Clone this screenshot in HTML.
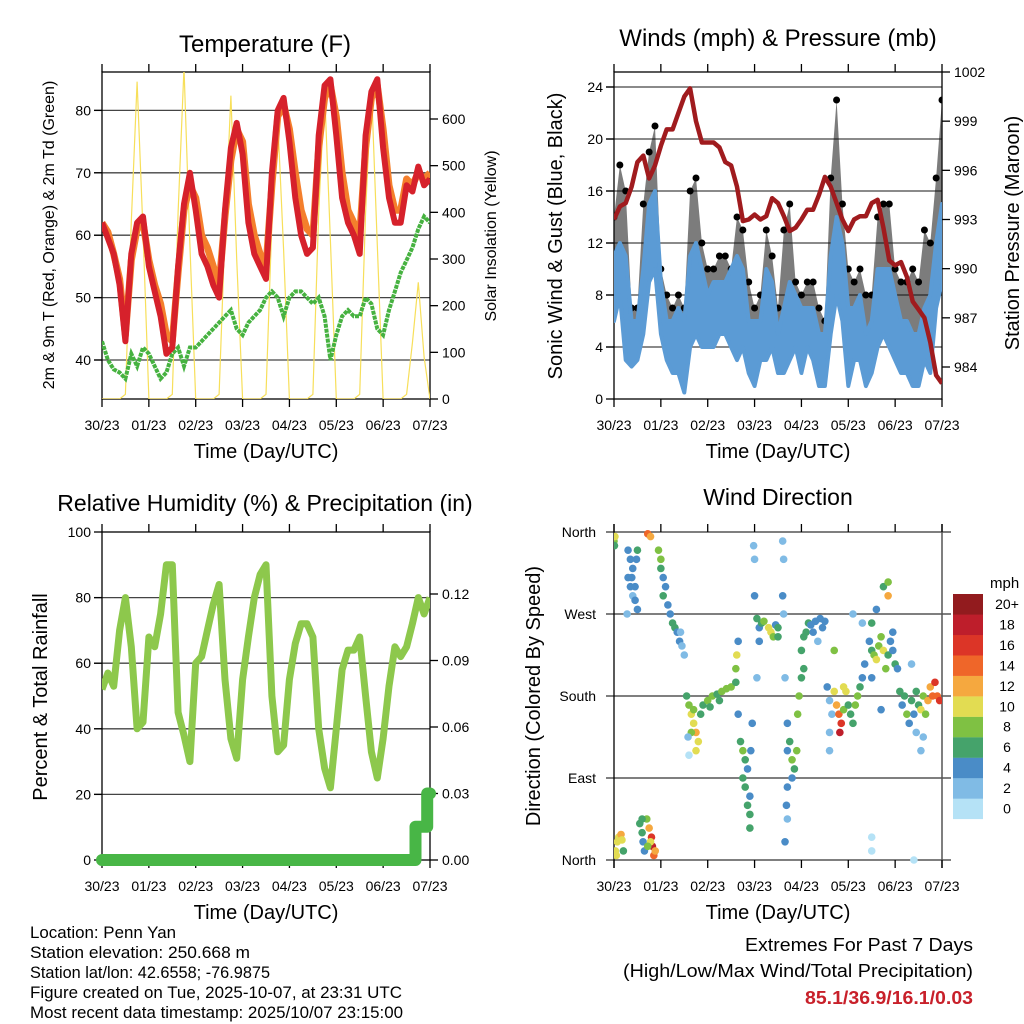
<!DOCTYPE html>
<html><head><meta charset="utf-8"><style>
html,body{margin:0;padding:0;background:#fff;}
svg{display:block;font-family:"Liberation Sans",sans-serif;}
.n{font-family:"Liberation Sans Narrow","Liberation Sans",sans-serif;}
</style></head><body>
<svg id="root" width="1024" height="1024" viewBox="0 0 1024 1024" xmlns="http://www.w3.org/2000/svg">
<defs>
<clipPath id="c1"><rect x="102" y="72" width="328" height="327"/></clipPath>
<clipPath id="c2"><rect x="614" y="72" width="328" height="327"/></clipPath>
<clipPath id="c3"><rect x="102" y="532" width="328" height="328"/></clipPath>
<clipPath id="c4"><rect x="614" y="528" width="328" height="336"/></clipPath>
</defs>
<text x="265" y="52" font-size="24" text-anchor="middle">Temperature (F)</text>
<text x="778" y="46" font-size="24" text-anchor="middle">Winds (mph) &amp; Pressure (mb)</text>
<text x="265" y="511" font-size="23" text-anchor="middle">Relative Humidity (%) &amp; Precipitation (in)</text>
<text x="778" y="505" font-size="23" text-anchor="middle">Wind Direction</text>
<text x="266" y="458" font-size="20" text-anchor="middle">Time (Day/UTC)</text>
<text x="778" y="458" font-size="20" text-anchor="middle">Time (Day/UTC)</text>
<text x="266" y="919" font-size="20" text-anchor="middle">Time (Day/UTC)</text>
<text x="778" y="919" font-size="20" text-anchor="middle">Time (Day/UTC)</text>
<text transform="translate(54,235) rotate(-90)" font-size="16" text-anchor="middle">2m &amp; 9m T (Red, Orange) &amp; 2m Td (Green)</text>
<text transform="translate(496,236) rotate(-90)" font-size="16" text-anchor="middle">Solar Insolation (Yellow)</text>
<text transform="translate(562,236) rotate(-90)" font-size="20" text-anchor="middle">Sonic Wind &amp; Gust (Blue, Black)</text>
<text transform="translate(1019,233) rotate(-90)" font-size="20" text-anchor="middle">Station Pressure (Maroon)</text>
<text transform="translate(47,697) rotate(-90)" font-size="20" text-anchor="middle">Percent &amp; Total Rainfall</text>
<text transform="translate(540,696) rotate(-90)" font-size="20" text-anchor="middle">Direction (Colored By Speed)</text>
<g class="n" font-size="17" lengthAdjust="spacingAndGlyphs">
<text x="30" y="938" textLength="146" lengthAdjust="spacingAndGlyphs">Location: Penn Yan</text>
<text x="30" y="958" textLength="220" lengthAdjust="spacingAndGlyphs">Station elevation: 250.668 m</text>
<text x="30" y="978" textLength="240" lengthAdjust="spacingAndGlyphs">Station lat/lon: 42.6558; -76.9875</text>
<text x="30" y="998" textLength="372" lengthAdjust="spacingAndGlyphs">Figure created on Tue, 2025-10-07, at 23:31 UTC</text>
<text x="30" y="1018" textLength="373" lengthAdjust="spacingAndGlyphs">Most recent data timestamp: 2025/10/07 23:15:00</text>
</g>
<g class="n" font-size="18" text-anchor="end">
<text x="973" y="951" textLength="228" lengthAdjust="spacingAndGlyphs">Extremes For Past 7 Days</text>
<text x="973" y="977" textLength="350" lengthAdjust="spacingAndGlyphs">(High/Low/Max Wind/Total Precipitation)</text>
<text x="973" y="1004" fill="#c8202a" font-weight="bold" textLength="168" lengthAdjust="spacingAndGlyphs">85.1/36.9/16.1/0.03</text>
</g>
</svg>
<script>
// ---------- data (3-hourly samples, day 0..7) ----------
const days = ["30/23","01/23","02/23","03/23","04/23","05/23","06/23","07/23"];
const temp2m = [62,59.5,57,52,43,57,62,63,55,51,47,41,42,55,65,70,64,57,55,52,50,64,74,78,73,62,57,55,53,70,80,82,75,66,60,57,58,76,84,85,76,66,62,60,57,76,83,85,74,66,62,62,68,67,71,68,69];
const temp9m = [62,60.5,57,53,44,56,61,62,56,52,49,44,43,54,64,68,66,60,58,55,52,63,72,77,75,65,60,57,55,68,79,81,77,70,64,61,60,74,82,84,79,70,64,62,60,74,82,84,77,68,64,64,69,68,70,69,70];
const dewpt = [43,40,38.5,38,37,41,39,42,41,39,37,38,41,42,39,42,42,43,44,45,46,47,48,45,44,46,47,48,50,51,50,47,50,51,51,50,49,50,47,40,44,47,48,47,47,50,49,45,44,48,51,54,56,58,61,63,62];
const solar = [0,0,0,0,10,380,680,360,0,0,0,0,10,400,710,330,0,0,0,0,10,360,650,300,0,0,0,0,10,380,600,320,0,0,0,0,10,400,660,340,0,0,0,0,10,400,670,330,0,0,0,0,10,120,250,90,0];
const windLo = [6,8,3,2.5,3,5,9,10,5,3,2,2,0.5,4,5,4,4,4,5,5,4,3,4,2,1,3,3,4,2,2,3,4,2,4,3,1,1,5,8,6,1,3,3,1,2,4,5,4,3,2,2,1,1,3,2,7,9];
const windHi = [11,12,11,6,6,10,15,16,9,6,6,7,6,11,12,10,8,9,9,9,10,11,10,6,6,6,10,9,5,7,9,8,7,7,7,5,5,11,14,12,7,7,8,5,6,10,10,10,8,6,6,5,5,7,8,12,15];
const gust = [14,18,16,7,7,15,19,21,10,8,7,8,7,16,17,12,10,10,11,11,10,14,13,9,7,8,13,11,7,13,15,9,8,9,9,7,6,17,23,15,10,9,10,8,8,14,15,15,10,9,9,10,9,13,12,17,23];
const pressure = [993,993.8,994,995,996.5,996.9,995.5,996.3,997.5,998.5,998.5,999.5,1000.5,1001,999,997.7,997.7,997.7,997.4,996.5,996.3,995,992.9,993,993.3,993,993.2,994.3,994,993.2,992.3,992.5,993,993.6,993.6,994.5,995.6,995,994,993,992.3,993,993.2,993.2,994,994.2,992.5,990.5,990.2,990.4,989.5,988,987.5,987,985.5,983.5,983];
const rh = [52,57,53,70,80,65,40,42,68,65,75,90,90,45,38,30,60,62,70,78,84,55,37,31,55,68,80,87,90,50,33,35,55,66,72,72,68,40,28,22,40,58,64,64,68,50,33,25,37,53,65,62,65,72,80,75,80];
const precip = [0,0,0,0,0,0,0,0,0,0,0,0,0,0,0,0,0,0,0,0,0,0,0,0,0,0,0,0,0,0,0,0,0,0,0,0,0,0,0,0,0,0,0,0,0,0,0,0,0,0,0,0,0,0,0.015,0.015,0.03];
// wind direction observations
const dirTime = [0,0.02,0.01,0.03,0.07,0.1,0.15,0.17,0.2,0.05,0.3,0.35,0.3,0.4,0.45,0.35,0.4,0.45,0.5,0.28,0.38,0.48,0.5,0.55,0.6,0.62,0.65,0.7,0.75,0.8,0.82,0.85,0.78,0.72,0.88,0.6,0.72,0.78,0.95,1,1,1.05,1.1,1.05,1.15,1.2,1.25,1.3,1.35,1.4,1.45,1.5,1.42,1.55,1.6,1.65,1.7,1.75,1.8,1.65,1.7,1.85,1.6,1.58,1.9,1.75,2,2.1,2.2,2.3,2.4,2.5,2.6,2.05,2.25,2.6,2.62,2.65,2.65,2.7,2.75,2.8,2.85,2.75,2.8,2.9,2.85,2.9,2.92,2.95,2.9,2.98,3,3,3.05,3.1,3.15,3.2,3.3,3.35,3.4,3.45,3.5,3.5,3.1,3.05,3.6,3.62,3.6,3.62,3.65,3.7,3.7,3.75,3.8,3.85,3.9,3.8,3.7,3.68,3.65,3.7,3.95,3.92,4,4.05,4.1,4.15,4.2,4.3,4.4,4.5,4.35,4,4.05,4.25,4.45,4.55,4.6,4.65,4.7,4.75,4.8,4.85,4.82,4.9,4.95,4.7,4.6,4.9,4.6,5,5.05,5.1,5.15,5.2,5.25,5.3,5.35,5.3,5.1,5.45,5.5,5.55,5.6,5.65,5.7,5.75,5.8,5.85,5.9,5.95,6,6.05,5.5,5.75,5.85,5.6,5.85,5.95,5.5,5.7,6.1,6.15,6.2,6.25,6.3,6.35,6.4,6.45,6.5,6.55,6.6,6.65,6.7,6.75,6.8,6.85,6.6,6.55,6.35,6.45,5.5,5.5,6.4,6.9,6.95];
const dirDeg = [350,355,345,10,20,25,28,22,10,5,340,330,310,320,300,300,290,285,275,270,310,330,340,40,30,20,10,45,35,25,15,5,20,15,10,45,358,355,340,330,320,310,300,290,280,270,260,255,250,240,235,225,250,180,170,160,150,140,130,140,165,160,115,135,170,120,175,180,182,185,188,190,195,168,175,210,225,240,160,130,120,110,100,90,80,70,60,50,120,150,35,345,330,290,265,255,260,262,255,250,245,258,255,245,240,200,350,330,290,270,200,150,120,130,110,100,120,90,80,60,20,45,180,160,230,245,250,260,258,262,265,262,240,200,210,250,255,190,175,160,185,170,160,150,140,190,185,230,140,165,120,170,160,150,170,180,190,200,215,260,270,240,230,225,220,235,245,230,210,225,240,230,215,210,260,300,305,275,290,250,200,165,185,170,180,160,150,175,160,185,170,165,180,160,175,190,180,195,135,120,215,140,25,10,0,180,175];
const dirSpeed = [9,10,7,10,10,11,12,10,7,10,4,4,4,4,4,4,3,4,4,3,4,4,6,6,7,5,4,9,12,16,18,14,10,8,12,6,14,12,8,8,6,5,4,6,4,4,6,6,5,4,3,2,3,6,8,10,10,12,10,9,8,6,1,2,6,10,8,8,7,8,8,9,7,6,6,8,10,4,4,7,8,6,5,7,6,4,6,6,4,4,6,3,2,4,6,5,6,8,10,10,8,4,6,7,4,3,2,2,4,3,2,4,4,6,8,6,8,4,4,4,4,2,8,8,6,6,6,6,5,4,4,4,3,6,7,5,5,4,2,2,10,12,14,16,18,10,10,8,3,8,2,6,6,6,8,8,7,4,4,3,2,4,6,8,10,8,8,10,8,6,4,4,6,4,6,6,8,4,12,4,4,4,6,4,6,8,4,6,4,6,6,10,8,8,12,12,14,16,3,2,3,3,1,1,1,14,16];
const speedLabels = ["0","2","4","6","8","10","12","14","16","18","20+"];
const speedColors = ["#b5e2f6","#80bbe5","#4a8cc7","#45a36b","#7fc143","#e2dc52","#f5a83f","#ef6629","#dc3527","#be1e2b","#921b1e"];

// ---------- axes ----------
const NS = "http://www.w3.org/2000/svg";
const root = document.getElementById('root');
function mk(parent, tag, attrs){ const e=document.createElementNS(NS,tag); for(const k in attrs) e.setAttribute(k,attrs[k]); parent.appendChild(e); return e; }
const N = temp2m.length;
const tOf = i => i*7/(N-1);
const xL = d => 102 + d*328/7;
const xR = d => 614 + d*328/7;
const yT = v => 399 - (v-33.75)*6.24;
const yS = v => 399 - v*280/600;
const yW = v => 399 - v*13;
const yP = v => 367 - (v-984)*295/18;
const yRH = v => 860 - v*3.28;
const yPr = v => 860 - v*266/0.12;
const yD = v => 860 - v*328/360;

function pts(xf, yf, arr){ return arr.map((v,i)=>xf(tOf(i)).toFixed(1)+','+yf(v).toFixed(1)).join(' '); }

function panelFrame(name, x0, y0, grids, leftTicks, rightTicks, labY){
  const g = mk(root,'g',{});
  
  
  grids.forEach(y=>{ const l=mk(g,'line',{x1:x0-8,x2:x0+328,y1:y,y2:y,stroke:'#444','stroke-width':1.3});   });
  mk(g,'rect',{x:x0,y:y0,width:328,height:(name==='temp'||name==='wind')?327:328,fill:'none',stroke:'#000','stroke-width':1.3});
  for(let d=0; d<=7; d++){
    const x=x0+d*328/7;
    mk(g,'line',{x1:x,x2:x,y1:y0-8,y2:y0,stroke:'#000','stroke-width':1.3});
    const yb=(name==='temp'||name==='wind')?399:860;
    mk(g,'line',{x1:x,x2:x,y1:yb,y2:yb+8,stroke:'#000','stroke-width':1.3});
    const t=mk(g,'text',{x:x,y:labY,'font-size':14,'text-anchor':'middle'});
    t.textContent=days[d];
    
    
  }
  leftTicks.forEach(([y,lab])=>{ mk(g,'line',{x1:x0-8,x2:x0,y1:y,y2:y,stroke:'#000','stroke-width':1.3}); const t=mk(g,'text',{x:x0-11,y:y+5,'font-size':14,'text-anchor':'end'}); t.textContent=lab;   });
  rightTicks.forEach(([y,lab])=>{ mk(g,'line',{x1:x0+328,x2:x0+336,y1:y,y2:y,stroke:'#000','stroke-width':1.3}); const t=mk(g,'text',{x:x0+340,y:y+5,'font-size':14}); t.textContent=lab;   });
  return g;
}

// Panel 1
panelFrame('temp',102,72,[40,50,60,70,80].map(yT),[40,50,60,70,80].map(v=>[yT(v),String(v)]),[0,100,200,300,400,500,600].map(v=>[yS(v),String(v)]),430);
const p1 = mk(root,'g',{'clip-path':'url(#c1)'});


const sol = mk(p1,'polyline',{points:pts(xL,yS,solar),fill:'none',stroke:'#f7df5a','stroke-width':1.2});


const dp = mk(p1,'polyline',{points:pts(xL,yT,dewpt),fill:'none',stroke:'#46b240','stroke-width':4,'stroke-dasharray':'4 1'});


const t9 = mk(p1,'polyline',{points:pts(xL,yT,temp9m),fill:'none',stroke:'#f47f2c','stroke-width':7,'stroke-linejoin':'round'});


const t2 = mk(p1,'polyline',{points:pts(xL,yT,temp2m),fill:'none',stroke:'#d6212b','stroke-width':6,'stroke-linejoin':'round'});



// Panel 2
panelFrame('wind',614,72,[4,8,12,16,20,24].map(yW),[0,4,8,12,16,20,24].map(v=>[yW(v),String(v)]),[984,987,990,993,996,999,1002].map(v=>[yP(v),String(v)]),430);
const p2 = mk(root,'g',{'clip-path':'url(#c2)'});


const gustPoly = pts(xR,yW,gust)+' '+windLo.map((v,i)=>xR(tOf(i)).toFixed(1)+','+yW(v).toFixed(1)).reverse().join(' ');
const gb = mk(p2,'polygon',{points:gustPoly,fill:'#111','fill-opacity':0.55});


gust.forEach((v,i)=>{ const c=mk(p2,'circle',{cx:xR(tOf(i)),cy:yW(v),r:3.5,fill:'#000'});   });
const windPoly = pts(xR,yW,windHi)+' '+windLo.map((v,i)=>xR(tOf(i)).toFixed(1)+','+yW(v).toFixed(1)).reverse().join(' ');
const wb = mk(p2,'polygon',{points:windPoly,fill:'#5b9bd5',stroke:'#5b9bd5','stroke-width':4,'stroke-linejoin':'round'});


const pr = mk(p2,'polyline',{points:pts(xR,yP,pressure),fill:'none',stroke:'#a01b1e','stroke-width':4.5,'stroke-linejoin':'round'});



// Panel 3
panelFrame('rh',102,532,[20,40,60,80].map(yRH),[0,20,40,60,80,100].map(v=>[yRH(v),String(v)]),[0,0.03,0.06,0.09,0.12].map(v=>[yPr(v),v.toFixed(2)]),891);
const p3 = mk(root,'g',{'clip-path':'url(#c3)'});


const rhl = mk(p3,'polyline',{points:pts(xL,yRH,rh),fill:'none',stroke:'#8dc84c','stroke-width':7,'stroke-linejoin':'round'});


let prPts=[];
precip.forEach((v,i)=>{ if(i>0 && v!==precip[i-1]){ const tm=tOf(i)-0.06; prPts.push(xL(tm).toFixed(1)+','+yPr(precip[i-1]).toFixed(1)); prPts.push(xL(tm).toFixed(1)+','+yPr(v).toFixed(1)); } prPts.push(xL(tOf(i)).toFixed(1)+','+yPr(v).toFixed(1)); });
const prl = mk(root,'polyline',{points:prPts.join(' '),fill:'none',stroke:'#48b646','stroke-width':12,'stroke-linecap':'round','stroke-linejoin':'round'});



// Panel 4
const g4 = mk(root,'g',{});


const dirLabs=["North","East","South","West","North"];
[0,90,180,270,360].forEach((v,i)=>{ const l=mk(g4,'line',{x1:606,x2:951,y1:yD(v),y2:yD(v),stroke:'#333','stroke-width':1.3});   const t=mk(g4,'text',{x:596,y:yD(v)+5,'font-size':14,'text-anchor':'end'}); t.textContent=dirLabs[i];   });
mk(g4,'line',{x1:614,x2:614,y1:524,y2:868,stroke:'#000','stroke-width':1.3});
mk(g4,'line',{x1:942,x2:942,y1:524,y2:868,stroke:'#555','stroke-width':1.5});
for(let d=0; d<=7; d++){ const x=xR(d); mk(g4,'line',{x1:x,x2:x,y1:524,y2:532,stroke:'#000','stroke-width':1.3}); mk(g4,'line',{x1:x,x2:x,y1:860,y2:868,stroke:'#000','stroke-width':1.3}); const t=mk(g4,'text',{x:x,y:891,'font-size':14,'text-anchor':'middle'}); t.textContent=days[d];   }
const p4 = mk(root,'g',{'clip-path':'url(#c4)'});


dirTime.forEach((t,i)=>{ const b=Math.min(10,Math.floor(dirSpeed[i]/2)); const c=mk(p4,'circle',{cx:xR(t),cy:yD(dirDeg[i]),r:3.8,fill:speedColors[b]});   });
// colorbar
const cb = mk(root,'g',{});


const mt = mk(cb,'text',{x:990,y:588,'font-size':15});
mt.textContent='mph';


speedLabels.forEach((lab,i)=>{ const k=10-i; const y=594+k*20.45; const r=mk(cb,'rect',{x:953,y:y,width:30,height:20.6,fill:speedColors[i]});   const t=mk(cb,'text',{x:1007,y:y+15,'font-size':14,'text-anchor':'middle'}); t.textContent=lab;   });
</script>
</body></html>
